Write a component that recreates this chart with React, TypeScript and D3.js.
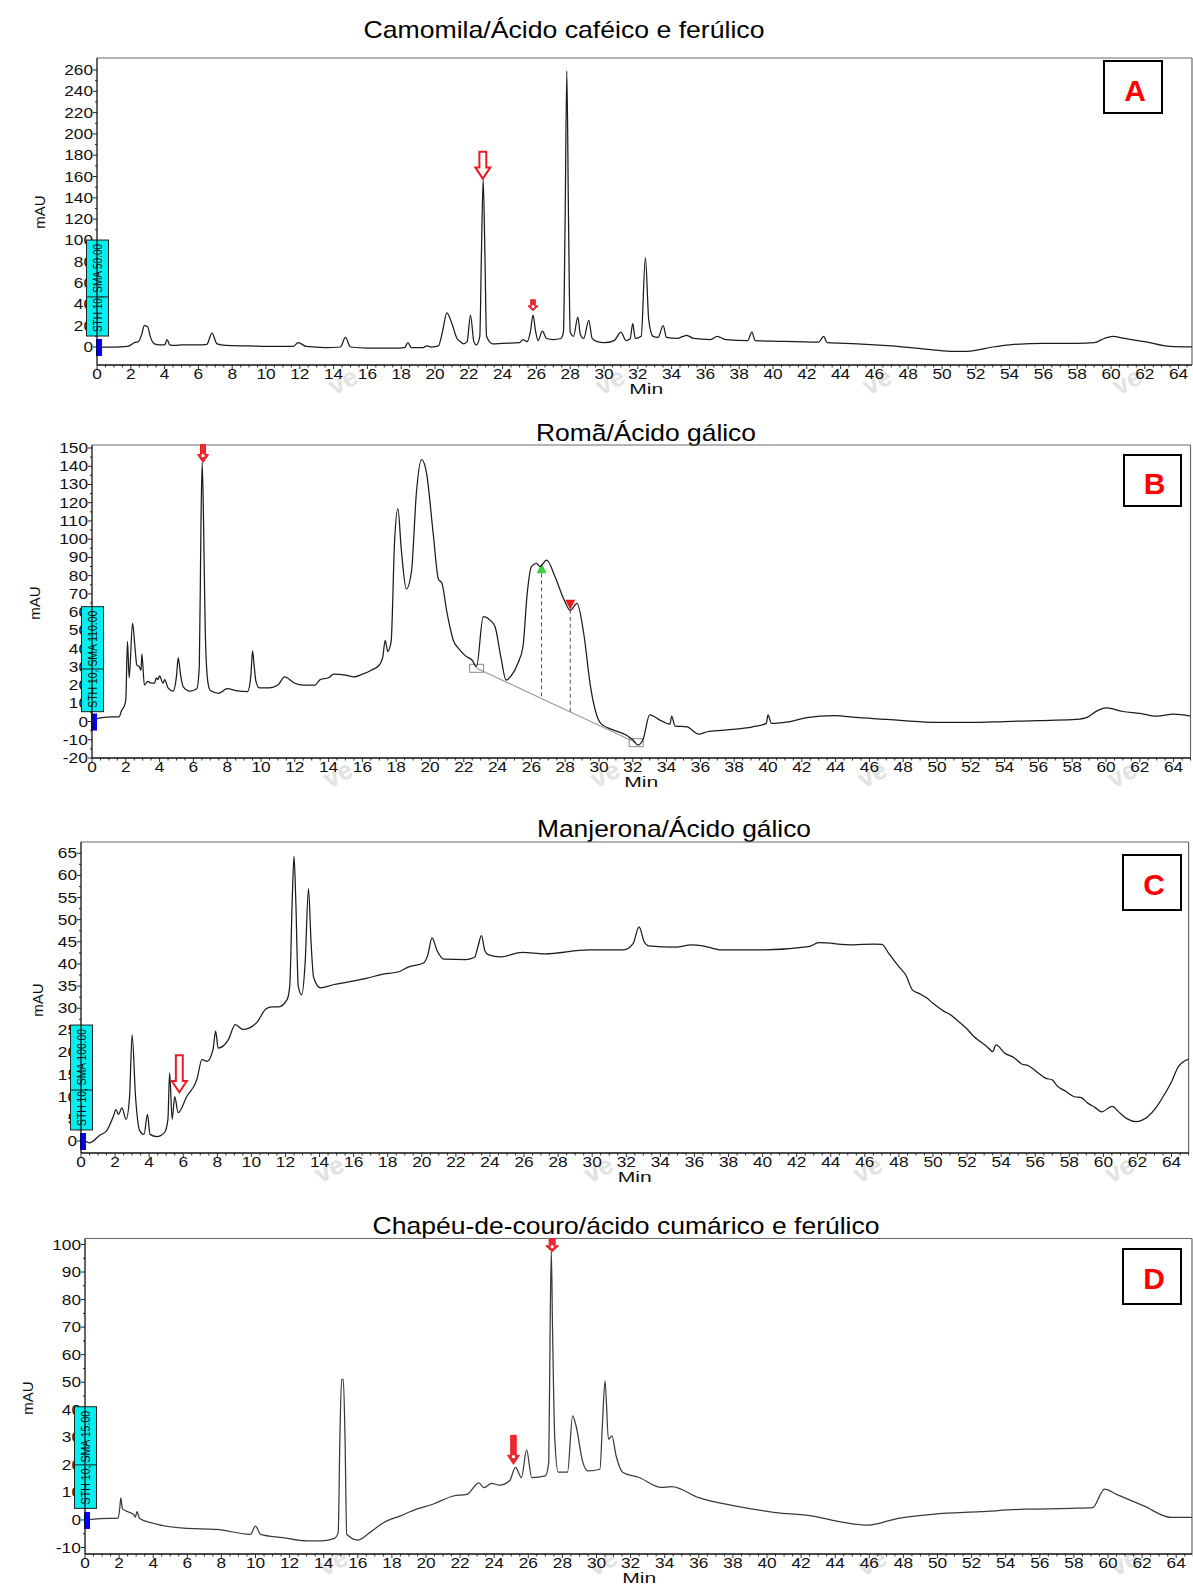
import * as d3 from "d3";

// chromatogram traces: [minutes, mAU]
const camomilaTrace: [number, number][] = [
  [0, 0], [1.0, 0], [1.8, 0.5], [2.0, 2], [2.2, 4], [2.45, 5], [2.65, 12], [2.8, 20], [3.0, 19], [3.15, 10],
  [3.4, 3], [3.7, 2], [4.0, 2], [4.15, 7], [4.3, 2], [4.6, 1.5], [5.0, 2], [6.0, 2], [6.5, 2.5], [6.8, 13],
  [7.1, 3], [7.6, 1.5], [9, 1], [10.5, 0.5], [11.6, 0.5], [11.9, 4], [12.4, 0.5], [13.5, -0.5], [14.4, 0],
  [14.7, 9], [15.0, 0], [16, -1], [17.5, -1], [18.2, -0.5], [18.4, 4], [18.6, -0.5], [19.3, -0.5], [19.5, 1],
  [19.8, 0], [20.2, 1], [20.45, 15], [20.7, 32], [21.0, 22], [21.3, 8], [21.5, 5], [21.7, 3], [21.9, 5],
  [22.1, 30], [22.3, 5], [22.45, 2], [22.65, 10], [22.75, 90], [22.85, 157], [22.95, 90], [23.05, 10],
  [23.4, 3], [24, 3.5], [25, 4], [25.2, 7], [25.45, 5], [25.65, 15], [25.8, 30], [25.95, 15], [26.1, 6],
  [26.35, 15], [26.6, 8], [27, 7], [27.45, 8], [27.6, 14], [27.7, 120], [27.8, 259], [27.9, 120], [28.0, 14],
  [28.2, 10], [28.45, 28], [28.6, 12], [28.8, 8], [29.1, 25], [29.3, 8], [29.6, 5], [30, 4], [30.6, 6],
  [31.0, 14], [31.3, 6], [31.55, 8], [31.7, 22], [31.85, 8], [32.2, 10], [32.45, 84], [32.65, 25], [32.9, 10],
  [33.2, 9], [33.5, 20], [33.7, 9], [34.3, 8], [34.9, 11], [35.3, 8], [36.3, 7], [36.7, 10], [37.2, 7],
  [38.5, 6], [38.75, 14], [38.95, 6], [40, 5.5], [42.7, 4.5], [43.0, 10], [43.2, 4], [45, 3], [47, 1],
  [49, -2], [50.5, -4], [51.5, -4], [53, 0], [54, 2], [56, 3.5], [58, 3.5], [59, 4], [59.6, 8], [60.1, 10],
  [60.8, 8], [62, 5], [63.5, 0.5], [65, 0],
];

const romaTrace: [number, number][] = [
  [0, 1], [0.5, 2], [1.2, 2.5], [1.6, 2.5], [1.75, 6], [1.95, 9.5], [2.0, 12], [2.1, 44], [2.2, 24], [2.4, 54],
  [2.55, 40], [2.65, 31], [2.8, 30], [2.9, 28], [2.95, 37], [3.1, 20], [3.3, 22], [3.5, 21], [3.7, 21],
  [3.8, 24], [3.9, 23], [4.0, 25], [4.2, 21], [4.3, 23], [4.5, 18.5], [4.8, 16.7], [5.0, 25], [5.1, 35],
  [5.25, 25], [5.4, 19], [5.8, 16.7], [6.2, 18], [6.35, 30], [6.45, 110], [6.52, 142], [6.6, 110], [6.7, 50],
  [6.85, 22], [7.0, 17], [7.5, 15.5], [8.0, 18], [8.5, 17], [9.2, 16.4], [9.4, 25], [9.5, 38.7], [9.6, 30],
  [9.7, 22], [9.9, 18.5], [10.5, 18.5], [11, 20], [11.4, 24.5], [12, 21], [12.5, 20], [13.2, 20], [13.5, 23],
  [14, 24], [14.3, 26], [15, 25.5], [15.5, 24.5], [16, 26], [16.5, 28], [17, 31], [17.2, 35], [17.35, 44.5],
  [17.5, 38.5], [17.7, 44], [17.9, 98], [18.1, 116.7], [18.3, 94.5], [18.6, 72.7], [18.9, 82], [19.2, 126],
  [19.5, 143.6], [19.8, 136], [20.2, 102], [20.5, 78], [20.7, 76], [21.0, 60], [21.4, 44], [21.7, 40],
  [22.1, 36], [22.5, 33.6], [22.75, 30], [23.15, 57.5], [23.55, 55.6], [23.85, 52], [24.2, 35], [24.5, 22.7],
  [24.8, 25], [25.2, 32], [25.5, 41], [25.75, 70], [26.0, 84.9], [26.3, 86.7], [26.5, 85], [26.9, 88.5],
  [27.4, 79.4], [27.9, 67.5], [28.3, 61], [28.7, 64.8], [29.1, 48], [29.5, 19], [30.1, -1], [30.75, -4.3],
  [31.6, -7.4], [32.0, -10], [32.3, -12.9], [32.6, -10], [33.0, 3.6], [33.6, 0.8], [34.2, -1.4], [34.3, 3],
  [34.5, -2.5], [35.2, -2.9], [35.9, -6.9], [36.4, -5.6], [37.4, -4.7], [39.1, -2.9], [39.9, -1], [40.0, 3.6],
  [40.2, -1], [41.3, 0], [42.3, 2.1], [43.9, 3.2], [45.4, 2.1], [47.0, 1.2], [48, 0.5], [50, -0.5], [52, -0.5],
  [54, 0], [56, 0.5], [58, 1], [58.8, 2], [59.5, 6], [60, 7.5], [61, 5.5], [62, 4.5], [63, 3], [64, 4], [65, 3],
];

const manjeronaTrace: [number, number][] = [
  [0, 0.75], [0.5, -0.4], [1.1, 1.3], [1.5, 2.3], [1.9, 5.6], [2.05, 7.1], [2.2, 6], [2.4, 7.5], [2.65, 4.9],
  [2.85, 10], [3.0, 24], [3.2, 10], [3.45, 2.3], [3.7, 1.5], [3.9, 6], [4.05, 1.5], [4.45, 1], [4.9, 1.9],
  [5.1, 4.9], [5.2, 15.4], [5.35, 4.9], [5.5, 10], [5.7, 6.4], [6.2, 10], [6.8, 13.9], [7.1, 18.4], [7.4, 18],
  [7.75, 20.7], [7.9, 24.8], [8.05, 21], [8.65, 22.9], [9.05, 26.3], [9.5, 25.2], [10.3, 26.7], [10.85, 29.8],
  [11.2, 30.3], [11.6, 30.3], [12.1, 32], [12.25, 35], [12.4, 55], [12.5, 64.3], [12.6, 55], [12.75, 35],
  [12.95, 33], [13.15, 40], [13.35, 57], [13.5, 45], [13.65, 37], [14.05, 34.6], [14.8, 35.3], [15.5, 35.8],
  [16.8, 36.8], [17.6, 37.6], [18.7, 38.3], [19.2, 39.3], [20.1, 40.2], [20.35, 42], [20.6, 45.9], [20.9, 43],
  [21.3, 41.1], [22.6, 41], [23.1, 41.5], [23.3, 44], [23.5, 46.4], [23.7, 43], [23.9, 42.1], [24.6, 41.6],
  [25.9, 42.6], [27.2, 42.3], [29.8, 43.2], [31.85, 43.2], [32.4, 44.6], [32.75, 48.4], [33.05, 45],
  [33.3, 44.1], [34.9, 43.8], [35.8, 44.3], [36.5, 44.1], [37.5, 43.2], [40.1, 43.2], [42.7, 43.9],
  [43.3, 44.8], [45.3, 44.3], [46.5, 44.5], [47.0, 44.4], [47.4, 42.4], [48.0, 39.4], [48.4, 37.5],
  [48.8, 34.1], [49.2, 33.3], [49.6, 32.4], [50.0, 31.1], [50.6, 29.4], [51.0, 28.6], [51.5, 27], [52.0, 25.3],
  [52.4, 23.6], [52.8, 22.4], [53.2, 21.2], [53.5, 20.2], [53.7, 21.7], [54.2, 19.9], [54.8, 18.7],
  [55.2, 17.4], [55.6, 17.0], [56.2, 15.3], [56.6, 14.2], [57.0, 13.8], [57.3, 12.4], [57.8, 11.2], [58.3, 10],
  [58.7, 9.8], [59.1, 8.5], [59.5, 7.6], [59.9, 6.6], [60.5, 7.8], [61.0, 6.2], [61.4, 5], [61.9, 4.4],
  [62.6, 5.5], [63.1, 7.6], [63.5, 10], [64.0, 13.4], [64.4, 16.8], [65, 18.5],
];

const chapeuTrace: [number, number][] = [
  [0, 0], [0.9, 0.5], [1.95, 0.7], [2.05, 5], [2.1, 8], [2.2, 4], [2.55, 2.9], [2.85, 2], [2.95, 1], [3.05, 3],
  [3.2, 0.5], [4.0, -1.2], [5.8, -3], [7.7, -3.4], [9.7, -5.2], [10.0, -2.2], [10.3, -5.2], [11.6, -6.4],
  [13.0, -7.6], [13.8, -7.6], [14.6, -6.8], [14.85, -4.6], [14.95, 30], [15.05, 51], [15.15, 51], [15.25, 30],
  [15.35, -5.2], [16.0, -7.3], [16.7, -4.6], [17.5, -1], [18.5, 1.5], [19.45, 3.9], [20.4, 5.7], [21.6, 8.7],
  [22.4, 9.3], [23.1, 13.5], [23.4, 11.7], [23.85, 13.3], [24.3, 12.6], [24.9, 14.2], [25.25, 19.1],
  [25.6, 15.4], [25.9, 25.4], [26.2, 15.4], [27.0, 16], [27.2, 20.9], [27.28, 70], [27.35, 97.5], [27.42, 70],
  [27.55, 30], [27.75, 17.4], [28.3, 17.4], [28.6, 37.8], [28.8, 34.2], [29.2, 20.9], [29.5, 17.8],
  [30.2, 18.4], [30.35, 35], [30.5, 50.5], [30.7, 29.3], [30.9, 30.5], [31.15, 23.3], [31.55, 17.2],
  [32.5, 15.4], [33.8, 11.8], [34.4, 12.1], [36.0, 8.1], [38.1, 5.1], [40.5, 2.7], [42.6, 1.5], [44.5, -0.9],
  [45.9, -1.9], [47.7, 0.6], [49.8, 2.1], [52.5, 3], [55.1, 3.9], [57.8, 4.2], [59.1, 4.5], [59.8, 11.2],
  [60.5, 9.3], [62.1, 5.1], [63.7, 0.9], [65, 0.9],
];

const minuteTicks = [0, 2, 4, 6, 8, 10, 12, 14, 16, 18, 20, 22, 24, 26, 28, 30, 32, 34, 36, 38, 40, 42, 44, 46, 48, 50, 52, 54, 56, 58, 60, 62, 64];
const camomilaTicks = [0, 20, 40, 60, 80, 100, 120, 140, 160, 180, 200, 220, 240, 260];
const romaTicks = [-20, -10, 0, 10, 20, 30, 40, 50, 60, 70, 80, 90, 100, 110, 120, 130, 140, 150];
const manjeronaTicks = [0, 5, 10, 15, 20, 25, 30, 35, 40, 45, 50, 55, 60, 65];
const chapeuTicks = [-10, 0, 10, 20, 30, 40, 50, 60, 70, 80, 90, 100];

const titles = [
  "Camomila/Ácido caféico e ferúlico",
  "Romã/Ácido gálico",
  "Manjerona/Ácido gálico",
  "Chapéu-de-couro/ácido cumárico e ferúlico",
];
const letters = ["A", "B", "C", "D"];
const methodLabels = ["STH 10, SMA 50.00", "STH 10, SMA 110.00", "STH 10, SMA 100.00", "STH 10, SMA 15.00"];

// arrows: tip at [minutes, mAU]
type Arrow = { t: number; v: number; w: number; h: number; hollow: boolean };
const camomilaArrows: Arrow[] = [
  { t: 22.83, v: 158, w: 15, h: 27, hollow: true },
  { t: 25.8, v: 34, w: 10, h: 11, hollow: false },
];
const romaArrows: Arrow[] = [{ t: 6.57, v: 142, w: 11, h: 18, hollow: false }];
const manjeronaArrows: Arrow[] = [{ t: 5.77, v: 11, w: 15, h: 37, hollow: true }];
const chapeuArrows: Arrow[] = [
  { t: 27.4, v: 97.4, w: 13, h: 13, hollow: false },
  { t: 25.13, v: 20.2, w: 12, h: 29, hollow: false },
];

// integration baseline in Romã: start / end [min, mAU], and the split marks
const romaBaseline: [number, number][] = [[22.76, 29.2], [32.2, -11.6]];
const romaMarks = [
  { t: 26.6, v: 84, up: true },
  { t: 28.3, v: 64, up: false },
];

const FONT = "'Liberation Sans', Arial, Helvetica, sans-serif";

const panels = [
  {
    trace: camomilaTrace, yTicks: camomilaTicks, arrows: camomilaArrows,
    x0: 97, ppm: 16.9, yRef: [0, 260], yPx: [347, 70], top: 58, bottom: 365,
    titleX: 564, titleY: 38, titleW: 401, mauX: 45, mauY: 212,
    box: [1104, 61, 58, 52], letterY: 101,
    cyan: [100.4, 10.3, 47], stroke: "#1c1c1c", wmY: 24,
  },
  {
    trace: romaTrace, yTicks: romaTicks, arrows: romaArrows,
    x0: 92, ppm: 16.9, yRef: [-20, 150], yPx: [758, 448], top: 445, bottom: 758,
    titleX: 646, titleY: 441, titleW: 220, mauX: 40, mauY: 603,
    box: [1124, 455, 57, 51], letterY: 494,
    cyan: [63, 5.4, 28.8], stroke: "#1c1c1c", wmY: 24,
  },
  {
    trace: manjeronaTrace, yTicks: manjeronaTicks, arrows: manjeronaArrows,
    x0: 81, ppm: 17.04, yRef: [0, 65], yPx: [1141, 853.3], top: 842, bottom: 1153,
    titleX: 674, titleY: 837, titleW: 274, mauX: 43, mauY: 1000,
    box: [1123, 855, 58, 55], letterY: 895,
    cyan: [26.2, 2.5, 11.5], stroke: "#1c1c1c", wmY: 24,
  },
  {
    trace: chapeuTrace, yTicks: chapeuTicks, arrows: chapeuArrows,
    x0: 85, ppm: 17.05, yRef: [-10, 100], yPx: [1547.5, 1244.5], top: 1238.5, bottom: 1554,
    titleX: 626, titleY: 1234, titleW: 507, mauX: 33, mauY: 1398,
    box: [1123, 1249, 58, 55], letterY: 1289,
    cyan: [41.1, 4.2, 20], stroke: "#3a3a3a", wmY: 16,
  },
];

const watermarkMinutes = [14.8, 30.6, 46.4, 61.2];

function labelLength(s: string) {
  let n = 0;
  for (const ch of s) n += ch === "-" ? 6 : 9.6;
  return n;
}

function arrowPath(cx: number, tip: number, w: number, h: number) {
  const sw = w * 0.46;
  const hh = Math.min(h * 0.45, w * 0.75);
  return `M${cx - sw / 2},${tip - h}L${cx + sw / 2},${tip - h}L${cx + sw / 2},${tip - hh}L${cx + w / 2},${tip - hh}L${cx},${tip}L${cx - w / 2},${tip - hh}L${cx - sw / 2},${tip - hh}Z`;
}

const Panel = ({ p, i }: { p: (typeof panels)[number]; i: number }) => {
  const x = d3.scaleLinear().domain([0, 64]).range([p.x0, p.x0 + 64 * p.ppm]);
  const y = d3.scaleLinear().domain(p.yRef).range(p.yPx);
  const right = Math.min(x(65), 1192);
  const line = d3.line<[number, number]>().x(d => x(d[0])).y(d => y(d[1])).curve(d3.curveMonotoneX);
  const minor = d3.range(0, 65.01, 0.5);
  const yStep = p.yTicks[1] - p.yTicks[0];
  const yMinor = d3.range(p.yTicks[0], p.yTicks[p.yTicks.length - 1] + 0.01, yStep / 2);
  const [cTop, cBot, cMid] = p.cyan;
  const clipId = `clip${i}`;

  return (
    <g>
      <defs>
        <clipPath id={clipId}>
          <rect x={p.x0} y={p.top} width={right - p.x0} height={p.bottom - p.top} />
        </clipPath>
      </defs>

      {/* watermark */}
      {watermarkMinutes.map((m, k) => (
        <text key={k} x={x(m)} y={p.bottom + p.wmY} fontFamily={FONT} fontSize={26} fontWeight="bold"
          fill="#e2e2e2" textAnchor="middle" transform={`rotate(-28 ${x(m)} ${p.bottom + p.wmY})`}>ve</text>
      ))}

      <text x={p.titleX} y={p.titleY} fontFamily={FONT} fontSize={24} textAnchor="middle"
        textLength={p.titleW} lengthAdjust="spacingAndGlyphs" fill="#000">{titles[i]}</text>

      {/* frame */}
      <line x1={p.x0} x2={right} y1={p.top} y2={p.top} stroke="#6a6a6a" strokeWidth={1.2} />
      <line x1={right} x2={right} y1={p.top} y2={p.bottom} stroke="#6a6a6a" strokeWidth={1.2} />

      {/* y tick labels */}
      {p.yTicks.map(t => (
        <text key={t} x={p.x0 - 4} y={y(t) + 5} fontFamily={FONT} fontSize={15} textAnchor="end"
          textLength={labelLength(String(t))} lengthAdjust="spacingAndGlyphs" fill="#111">{t}</text>
      ))}
      {yMinor.map(t => (
        <line key={t} x1={p.x0} x2={p.x0 - (Math.abs((t - p.yTicks[0]) % yStep) < 1e-6 ? 4 : 2)}
          y1={y(t)} y2={y(t)} stroke="#222" strokeWidth={1} />
      ))}

      <text x={p.mauX} y={p.mauY} fontFamily={FONT} fontSize={15} textAnchor="middle"
        transform={`rotate(-90 ${p.mauX} ${p.mauY})`} fill="#111">mAU</text>

      {/* x axis */}
      {minor.map(t => (
        <line key={t} x1={x(t)} x2={x(t)} y1={p.bottom} y2={p.bottom + (t % 2 === 0 ? 4 : 2.5)}
          stroke="#333" strokeWidth={1} />
      ))}
      {minuteTicks.map(t => (
        <text key={t} x={x(t)} y={p.bottom + 14} fontFamily={FONT} fontSize={15} textAnchor="middle"
          textLength={labelLength(String(t))} lengthAdjust="spacingAndGlyphs" fill="#111">{t}</text>
      ))}
      <text x={x(32.5)} y={p.bottom + 29} fontFamily={FONT} fontSize={15} textAnchor="middle"
        textLength={34} lengthAdjust="spacingAndGlyphs" fill="#111">Min</text>

      {/* integration marks */}
      {i === 1 && (
        <g>
          <line x1={x(romaBaseline[0][0])} y1={y(romaBaseline[0][1])} x2={x(romaBaseline[1][0])}
            y2={y(romaBaseline[1][1])} stroke="#9a9a9a" strokeWidth={1.2} />
          {romaBaseline.map(([t, v], k) => (
            <rect key={k} x={x(t) - 7} y={y(v) - 4} width={14} height={8} fill="none" stroke="#8a8a8a" />
          ))}
          {romaMarks.map((m, k) => {
            const frac = (m.t - romaBaseline[0][0]) / (romaBaseline[1][0] - romaBaseline[0][0]);
            const vb = romaBaseline[0][1] + frac * (romaBaseline[1][1] - romaBaseline[0][1]);
            const cx = x(m.t), cy = y(m.v);
            const tri = m.up
              ? `M${cx - 5},${cy + 5}L${cx + 5},${cy + 5}L${cx},${cy - 5}Z`
              : `M${cx - 5},${cy - 5}L${cx + 5},${cy - 5}L${cx},${cy + 5}Z`;
            return (
              <g key={k}>
                <line x1={cx} x2={cx} y1={cy + 5} y2={y(vb)} stroke="#555" strokeDasharray="4,3" />
                <path d={tri} fill={m.up ? "#3ccf3c" : "#e21b1b"} />
              </g>
            );
          })}
        </g>
      )}

      <path d={line(p.trace) ?? ""} fill="none" stroke={p.stroke} strokeWidth={1.25}
        strokeLinejoin="round" clipPath={`url(#${clipId})`} />

      {/* method label */}
      <rect x={p.x0 - 10.5} y={y(cTop)} width={22} height={y(cBot) - y(cTop)} fill="#00f0f0" stroke="#222" />
      <line x1={p.x0 - 10.5} x2={p.x0 + 11.5} y1={y(cMid)} y2={y(cMid)} stroke="#222" />
      <text x={p.x0 + 5} y={(y(cTop) + y(cBot)) / 2} fontFamily={FONT} fontSize={12} textAnchor="middle"
        textLength={y(cBot) - y(cTop) - 8} lengthAdjust="spacingAndGlyphs"
        transform={`rotate(-90 ${p.x0 + 5} ${(y(cTop) + y(cBot)) / 2})`} fill="#111">{methodLabels[i]}</text>
      <rect x={p.x0 - 1} y={y(0) - 8} width={6} height={17} fill="#0000ee" />

      {/* axes */}
      <line x1={p.x0} x2={p.x0} y1={p.top} y2={p.bottom} stroke="#111" strokeWidth={1.3} />
      <line x1={p.x0} x2={right} y1={p.bottom} y2={p.bottom} stroke="#111" strokeWidth={1.3} />

      {/* arrows */}
      {p.arrows.map((a, k) => {
        const cx = x(a.t), tip = y(a.v);
        const hh = Math.min(a.h * 0.45, a.w * 0.75);
        return (
          <g key={k}>
            <path d={arrowPath(cx, tip, a.w, a.h)} fill={a.hollow ? "#fff" : "#ec2a32"}
              stroke="#ec1c24" strokeWidth={a.hollow ? 2 : 1} strokeLinejoin="miter" />
            {!a.hollow && <circle cx={cx} cy={tip - hh * 0.85} r={1.6} fill="#fff" />}
          </g>
        );
      })}

      {/* panel letter */}
      <rect x={p.box[0]} y={p.box[1]} width={p.box[2]} height={p.box[3]} fill="#fff" stroke="#000" strokeWidth={2} />
      <text x={p.box[0] + p.box[2] / 2 + 2} y={p.letterY} fontFamily={FONT} fontSize={30} fontWeight="bold"
        textAnchor="middle" fill="#ff0000">{letters[i]}</text>
    </g>
  );
};

export default function App() {
  return (
    <svg width={1193} height={1585} style={{ position: "absolute", left: 0, top: 0, background: "#fff" }}>
      <rect width={1193} height={1585} fill="#fff" />
      {panels.map((p, i) => (
        <Panel key={i} p={p} i={i} />
      ))}
    </svg>
  );
}
